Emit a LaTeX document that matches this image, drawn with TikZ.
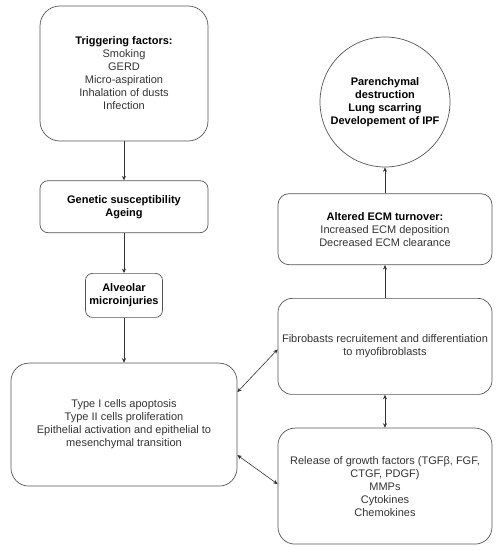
\documentclass[tikz,border=0pt]{standalone}
\usepackage{fontspec}
\setmainfont{Liberation Sans}
\usepackage{xcolor}
\usetikzlibrary{positioning}
\usetikzlibrary{arrows.meta}
\definecolor{txtgray}{HTML}{333333}
\definecolor{linegray}{HTML}{555555}

\begin{document}
\begin{tikzpicture}[>={Stealth[length=4.5pt,width=4pt]}, draw=linegray, font=\fontsize{11}{13}\selectfont, text=txtgray]
		\tikzstyle{box}=[draw=linegray, rectangle, line width=0.7pt, inner sep=0pt, align=center]
		\tikzstyle{head}=[font=\fontsize{11}{13}\selectfont\bfseries, text=black]
		\tikzstyle{link}=[draw=black!80, line width=0.6pt]

		\useasboundingbox (0,0) rectangle (503pt,550pt);

		% left column
		\node[box, rounded corners=20pt, minimum width=168pt, minimum height=135pt] (trig) at (124pt,476.5pt) {{\bfseries\color{black} Triggering factors:}\\ Smoking\\ GERD\\ Micro-aspiration\\ Inhalation of dusts\\ Infection};
		\node[box, head, rounded corners=8pt, minimum width=168pt, minimum height=52pt, below=39pt of trig] (gen) {Genetic susceptibility\\ Ageing};
		\node[box, head, rounded corners=7pt, minimum width=77pt, minimum height=44pt, below=40pt of gen] (alv) {Alveolar\\ microinjuries};
		\node[box, rounded corners=18pt, minimum width=226pt, minimum height=123pt, below=45pt of alv] (cells) {Type I cells apoptosis\\ Type II cells proliferation\\ Epithelial activation and epithelial to\\ mesenchymal transition};

		% right column
		\node[draw=linegray, circle, line width=0.7pt, minimum size=130pt, inner sep=0pt, head, align=center] (ipf) at (385pt,448pt) {Parenchymal\\ destruction\\ Lung scarring\\ Developement of IPF};
		\node[box, rounded corners=11pt, minimum width=214pt, minimum height=71pt, below=26pt of ipf] (ecm) {{\bfseries\color{black} Altered ECM turnover:}\\ Increased ECM deposition\\ Decreased ECM clearance};
		\node[box, rounded corners=14pt, minimum width=214pt, minimum height=96pt, below=33pt of ecm] (fib) {Fibrobasts recruitement and differentiation\\ to myofibroblasts};
		\node[box, rounded corners=17pt, minimum width=214pt, minimum height=116pt, below=33pt of fib] (rel) {Release of growth factors (TGFβ, FGF,\\ CTGF, PDGF)\\ MMPs\\ Cytokines\\ Chemokines};

		\path[link, ->] (trig) edge (gen);
		\path[link, ->] (gen) edge (alv);
		\path[link, ->] (alv) edge (cells);
		\path[link, ->] (ecm) edge (ipf);
		\path[link, ->] (fib) edge (ecm);
		\path[link, <->] (fib) edge (rel);
		\draw[link, <->] ([yshift=32.5pt]cells.east) -- ([yshift=-3pt]fib.west);
		\draw[link, <->] ([yshift=-30.5pt]cells.east) -- ([yshift=2pt]rel.west);
	\end{tikzpicture}
\end{document}
